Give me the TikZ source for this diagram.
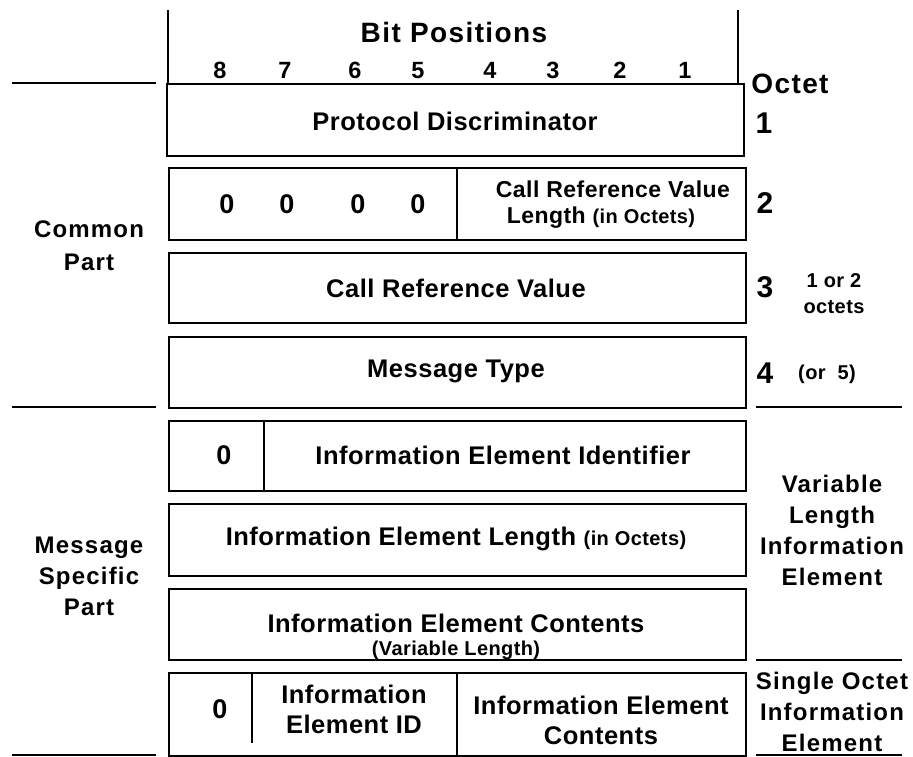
\documentclass[tikz,border=0pt]{standalone}
\usepackage{fontspec}
\setmainfont{Liberation Sans}
\newfontfamily\boxfont{Liberation Sans}[LetterSpace=2]
\newfontfamily\headfont{Liberation Sans}[LetterSpace=5]
\newfontfamily\sidefont{Liberation Sans}[LetterSpace=5]
\begin{document}
\begin{tikzpicture}[x=1pt,y=-1pt,
  field/.style={draw=black, line width=1.5pt, fill=white, inner sep=0pt, anchor=north west},
  rule/.style={draw=black, line width=1.5pt},
  big/.style={font=\boxfont\bfseries\fontsize{25.5}{30}\selectfont, inner sep=0pt},
  mid/.style={font=\boxfont\bfseries\fontsize{23}{30}\selectfont, inner sep=0pt},
  bit/.style={font=\boxfont\bfseries\fontsize{27}{30}\selectfont, inner sep=0pt},
  small/.style={font=\boxfont\bfseries\fontsize{20}{26}\selectfont, inner sep=0pt},
  head/.style={font=\headfont\bfseries\fontsize{28}{32}\selectfont, inner sep=0pt},
  bitno/.style={font=\boxfont\bfseries\fontsize{23.5}{26}\selectfont, inner sep=0pt, anchor=base},
  octno/.style={font=\boxfont\bfseries\fontsize{30}{32}\selectfont, inner sep=0pt},
  side/.style={font=\sidefont\bfseries\fontsize{24}{31}\selectfont, inner sep=0pt, align=center},
]
\useasboundingbox (0,0) rectangle (913,756);

% header frame
\coordinate (hl0) at (168,10);
\coordinate (hl1) at (168,83);
\coordinate (hr0) at (738,10);
\coordinate (hr1) at (738,83);
\draw[rule] (hl0) -- (hl1);
\draw[rule] (hr0) -- (hr1);
\node[head] (bitpos) at (454,32) {Bit Positions};
\foreach \n/\x in {8/220,7/285,6/355,5/418,4/490,3/553,2/620,1/685}
  \node[bitno] (bit\n) at (\x,78.5) {\n};
\node[head] (octet) at (790,84) {Octet};

% field boxes
\node[field, minimum width=577pt, minimum height=72pt] (b1) at (166,83) {};
\node[field, minimum width=577pt, minimum height=72pt] (b2) at (168,167) {};
\node[field, minimum width=577pt, minimum height=70pt] (b3) at (168,252) {};
\node[field, minimum width=577pt, minimum height=71pt] (b4) at (168,336) {};
\node[field, minimum width=577pt, minimum height=70pt] (b5) at (168,420) {};
\node[field, minimum width=577pt, minimum height=72pt] (b6) at (168,503) {};
\node[field, minimum width=577pt, minimum height=71pt] (b7) at (168,588) {};
\node[field, minimum width=577pt, minimum height=83pt] (b8) at (168,672) {};

% field dividers
\coordinate (d2) at (457,0);
\coordinate (d5) at (264,0);
\coordinate (d8a) at (252,0);
\coordinate (d8b) at (457,0);
\coordinate (d8end) at (252,743);
\draw[rule] (b2.north -| d2) -- (b2.south -| d2);
\draw[rule] (b5.north -| d5) -- (b5.south -| d5);
\draw[rule] (b8.north -| d8a) -- (d8end);
\draw[rule] (b8.north -| d8b) -- (b8.south -| d8b);

% field texts
\node[big] (t1) at (455,121) {Protocol Discriminator};
\foreach \i/\x in {a/227,b/287,c/358,d/418}
  \node[bit] (z\i) at (\x,204) {0};
\node[mid] (crv1) at (613,189) {Call Reference Value};
\node[mid] (crv2) at (601,218) {Length {\fontsize{20}{26}\selectfont(in Octets)}};
\node[big] (t3) at (456,288) {Call Reference Value};
\node[big] (t4) at (456,371) {Message Type};
\node[bit] (z5) at (224,455) {0};
\node[big] (t5) at (503,455) {Information Element Identifier};
\node[big] (t6) at (456,539) {Information Element Length {\fontsize{20}{26}\selectfont(in Octets)}};
\node[big] (t7) at (456,623) {Information Element Contents};
\node[small] (t7b) at (456,650) {(Variable Length)};
\node[bit] (z8) at (220,709) {0};
\node[big, align=center] (t8a) at (354,709) {Information\\Element ID};
\node[big, align=center] (t8b) at (601,720) {Information Element\\Contents};

% octet numbers
\node[octno] (o1) at (764,123) {1};
\node[octno] (o2) at (765,203) {2};
\node[octno] (o3) at (765,287) {3};
\node[octno] (o4) at (765,373) {4};
\node[small, align=center] (o3note) at (834,294) {1 or 2\\octets};
\node[small] (o4note) at (827,374) {(or~~5)};

% group rules
\coordinate (la0) at (12,83);   \coordinate (la1) at (156,83);
\coordinate (lb0) at (12,407);  \coordinate (lb1) at (156,407);
\coordinate (lc0) at (12,755);  \coordinate (lc1) at (156,755);
\coordinate (ra0) at (756,407); \coordinate (ra1) at (902,407);
\coordinate (rb0) at (756,660); \coordinate (rb1) at (902,660);
\coordinate (rc0) at (756,755); \coordinate (rc1) at (902,755);
\foreach \a/\b in {la0/la1,lb0/lb1,lc0/lc1,ra0/ra1,rb0/rb1,rc0/rc1}
  \draw[rule] (\a) -- (\b);

% group labels
\node[side] (common) at (89,246) {Common\\[2pt]Part};
\node[side] (msgspec) at (89,576) {Message\\Specific\\Part};
\node[side] (varie) at (832,530) {Variable\\Length\\Information\\Element};
\node[side] (singie) at (832,712) {Single Octet\\Information\\Element};
\end{tikzpicture}
\end{document}
